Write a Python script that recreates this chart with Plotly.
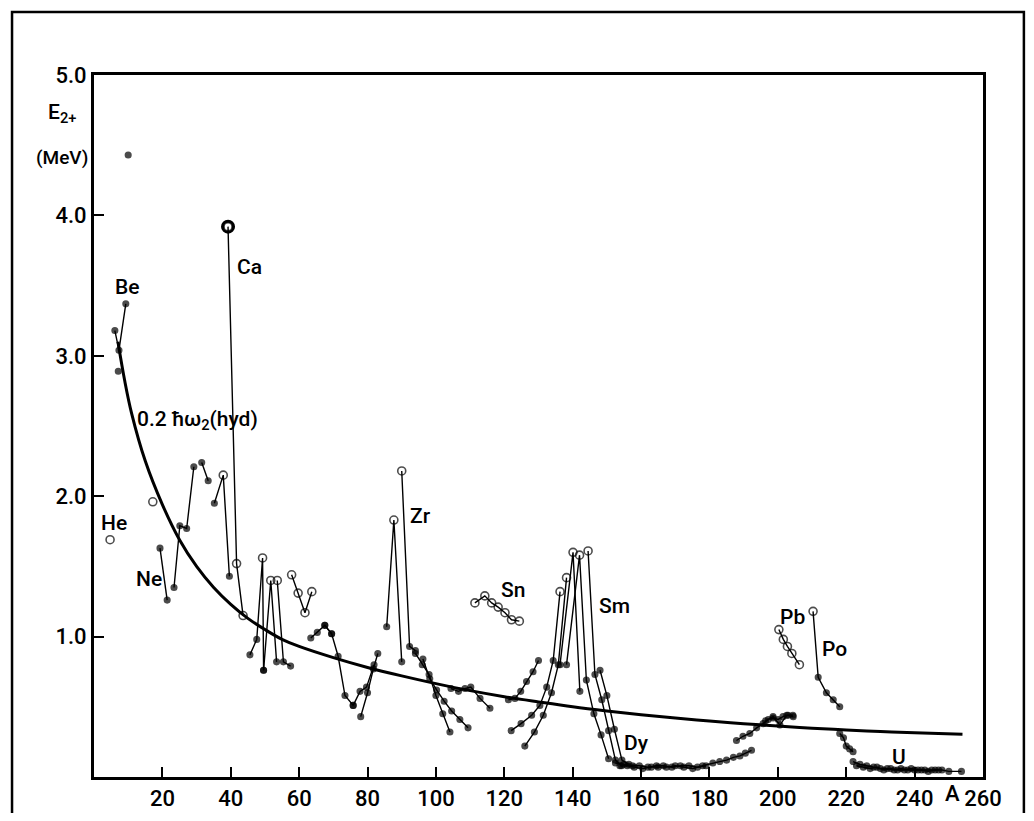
import plotly.graph_objects as go

# ---------------- data ----------------
CURVE_A = [7, 9, 11, 15, 20, 25, 30, 35, 40, 45, 50, 55, 60, 70, 80, 90, 100, 110, 120, 130, 140,
           150, 160, 170, 180, 190, 200, 210, 220, 230, 240, 254]
CURVE_E = [3.10, 2.82, 2.59, 2.25, 1.94, 1.69, 1.50, 1.35, 1.23, 1.13, 1.05, 0.98, 0.93, 0.85, 0.78,
           0.72, 0.665, 0.615, 0.572, 0.535, 0.500, 0.470, 0.443, 0.420, 0.399, 0.380, 0.363,
           0.348, 0.335, 0.324, 0.315, 0.305]

X10_A, X10_E = [10.0], [4.43]
HE_A, HE_E = [4.7], [1.69]
BE_A, BE_E = [6.1, 7.3, 9.3], [3.18, 3.04, 3.37]
BE2_A, BE2_E = [7.1], [2.89]
C_A, C_E = [17.2], [1.96]
NE_A, NE_E = [19.3, 21.4], [1.63, 1.26]
MG_A, MG_E = [23.4, 25.1, 27.1, 29.2], [1.35, 1.79, 1.77, 2.21]
S_A, S_E = [31.5, 33.4], [2.24, 2.11]
AR_A, AR_E = [35.2, 37.8, 39.6], [1.95, 2.15, 1.43]
CA_A, CA_E = [39.2, 41.7, 43.6], [3.92, 1.52, 1.15]
TI_A, TI_E = [45.6, 47.6, 49.3, 49.6], [0.87, 0.98, 1.56, 0.76]
CR_A, CR_E = [49.6, 51.7, 53.4], [0.76, 1.40, 0.82]
FE_A, FE_E = [53.6, 55.4, 57.5], [1.40, 0.82, 0.79]
NI_A, NI_E = [57.8, 59.7, 61.7, 63.7], [1.44, 1.31, 1.17, 1.32]
ZN_A, ZN_E = [63.4, 65.3, 67.5, 69.5], [0.99, 1.03, 1.08, 1.02]
GE_A, GE_E = [67.5, 69.5, 71.4, 73.4, 75.8], [1.08, 1.02, 0.86, 0.58, 0.51]
SE_A, SE_E = [75.8, 77.8, 79.7, 81.9], [0.51, 0.61, 0.64, 0.80]
KR_A, KR_E = [78.0, 80.0, 81.7, 83.0], [0.43, 0.60, 0.77, 0.88]
SR_A, SR_E = [85.6, 87.7, 90.0], [1.07, 1.83, 0.82]
ZR_A, ZR_E = [90.0, 92.3, 94.0], [2.18, 0.93, 0.90]
MO_A, MO_E = [94.0, 96.0, 98.0, 100.0, 102.0, 104.1], [0.88, 0.80, 0.73, 0.58, 0.45, 0.32]
RU_A, RU_E = [96.2, 98.2, 100.2, 102.4, 104.6, 107.0, 109.4], [0.84, 0.70, 0.62, 0.54, 0.47, 0.41, 0.35]
CD_A, CD_E = [104.4, 106.6, 108.5, 110.2, 112.9, 115.8], [0.63, 0.61, 0.63, 0.64, 0.56, 0.49]
SN_A, SN_E = [111.4, 114.3, 116.3, 118.2, 120.2, 122.1, 124.4], [1.24, 1.29, 1.24, 1.21, 1.17, 1.12, 1.11]
TE_A, TE_E = [121.2, 123.1, 124.8, 126.5, 128.4, 130.0], [0.55, 0.56, 0.61, 0.68, 0.75, 0.83]
XE_A, XE_E = [122.0, 124.9, 128.0, 130.4, 132.4, 134.3, 136.3], [0.33, 0.38, 0.44, 0.51, 0.64, 0.83, 1.32]
BA_A, BA_E = [126.0, 128.8, 131.4, 133.8, 135.8, 138.2], [0.22, 0.32, 0.44, 0.60, 0.80, 1.42]
CE_A, CE_E = [136.3, 140.1, 142.1], [0.80, 1.60, 0.61]
ND_A, ND_E = [138.2, 142.0, 144.0, 146.2, 148.3, 150.5], [0.80, 1.58, 0.69, 0.45, 0.30, 0.13]
SM_A, SM_E = [144.5, 146.5, 148.5, 150.5, 152.5, 154.3], [1.61, 0.73, 0.55, 0.33, 0.12, 0.08]
GD_A, GD_E = [148.0, 150.0, 152.2, 154.4, 156.4], [0.76, 0.58, 0.34, 0.12, 0.09]
DY_A = [153.8, 156.0, 158.0, 160.5, 163.0, 165.0, 167.4, 170.0, 172.5, 175.1, 178.0, 181.0, 183.0,
        185.0, 187.0, 188.9, 190.5, 192.3]
DY_E = [0.08, 0.08, 0.07, 0.06, 0.07, 0.07, 0.07, 0.08, 0.07, 0.06, 0.08, 0.10, 0.11, 0.12, 0.14,
        0.15, 0.17, 0.19]
ER_A = [152.5, 155.0, 157.5, 159.5, 162.0, 164.5, 166.5, 169.0, 171.5, 174.0, 176.5, 179.0]
ER_E = [0.10, 0.09, 0.08, 0.08, 0.07, 0.08, 0.08, 0.07, 0.08, 0.08, 0.07, 0.08]
OS_A = [187.9, 189.8, 191.8, 193.8, 195.7, 197.2, 198.6, 200.1, 201.5, 203.0, 204.5]
OS_E = [0.26, 0.29, 0.31, 0.35, 0.38, 0.41, 0.42, 0.41, 0.43, 0.44, 0.43]
HG_A, HG_E = [196.4, 198.6, 200.6, 202.6, 204.4], [0.40, 0.43, 0.37, 0.44, 0.44]
PB_A, PB_E = [200.3, 201.6, 202.8, 204.1, 206.3], [1.05, 0.98, 0.93, 0.88, 0.80]
PO_A, PO_E = [210.3, 211.8, 214.2, 216.2, 218.1], [1.18, 0.71, 0.60, 0.55, 0.50]
RN_A, RN_E = [218.1, 219.2, 220.0, 221.0, 222.0], [0.31, 0.28, 0.22, 0.20, 0.18]
U_A = [222.0, 224.0, 226.0, 228.0, 230.0, 232.0, 234.0, 236.0, 238.0, 240.0, 242.0, 244.0, 246.0,
       248.0, 250.0, 253.7]
U_E = [0.11, 0.09, 0.08, 0.07, 0.06, 0.06, 0.05, 0.06, 0.05, 0.05, 0.05, 0.04, 0.05, 0.05, 0.04, 0.04]
TH_A = [223.0, 225.0, 227.0, 229.0, 231.0, 233.0, 235.0, 237.0, 239.0, 241.0, 243.0, 245.0, 247.0]
TH_E = [0.08, 0.07, 0.06, 0.07, 0.05, 0.06, 0.05, 0.05, 0.06, 0.05, 0.05, 0.05, 0.05]

X_TICKS = [20, 40, 60, 80, 100, 120, 140, 160, 180, 200, 220, 240, 260]
Y_TICKS = [1, 2, 3, 4, 5]
Y_TICK_TEXT = ["1.0", "2.0", "3.0", "4.0", "5.0"]

LABELS = ["He", "Be", "Ca", "Ne", "Zr", "Sn", "Sm", "Dy", "Pb", "Po", "U"]
LABEL_A = [1.6, 5.6, 41.2, 11.6, 91.8, 118.4, 147.2, 154.5, 200.0, 212.3, 232.7]
LABEL_E = [1.81, 3.49, 3.63, 1.41, 1.86, 1.33, 1.22, 0.24, 1.14, 0.91, 0.14]

# chains: (A, E, indices drawn as open circles)
chains = [
    (BE_A, BE_E, []), (NE_A, NE_E, []), (MG_A, MG_E, []), (S_A, S_E, []),
    (AR_A, AR_E, [1]), (CA_A, CA_E, [0, 1, 2]), (TI_A, TI_E, [2]), (CR_A, CR_E, [1]),
    (FE_A, FE_E, [0]), (NI_A, NI_E, [0, 1, 2, 3]), (ZN_A, ZN_E, []), (GE_A, GE_E, []),
    (SE_A, SE_E, []), (KR_A, KR_E, []), (SR_A, SR_E, [1]), (ZR_A, ZR_E, [0]),
    (MO_A, MO_E, []), (RU_A, RU_E, []), (CD_A, CD_E, []), (SN_A, SN_E, list(range(7))),
    (TE_A, TE_E, []), (XE_A, XE_E, [6]), (BA_A, BA_E, [5]), (CE_A, CE_E, [1]),
    (ND_A, ND_E, [1]), (SM_A, SM_E, [0]), (GD_A, GD_E, []), (DY_A, DY_E, []),
    (ER_A, ER_E, []), (OS_A, OS_E, []), (HG_A, HG_E, []), (PB_A, PB_E, [0, 1, 2, 3, 4]),
    (PO_A, PO_E, [0]), (RN_A, RN_E, []), (U_A, U_E, []), (TH_A, TH_E, []),
    (BE2_A, BE2_E, []), (X10_A, X10_E, []), (HE_A, HE_E, [0]), (C_A, C_E, [0]),
]

FONT = "Roboto, Liberation Sans, DejaVu Sans, sans-serif"

# page body has an 8px margin, so the figure is sized to fit the window
W, H = 1018, 805
L, T = 86, 67
PW, PH = 889, 702

fig = go.Figure()

# hydrodynamic curve
fig.add_trace(go.Scatter(x=CURVE_A, y=CURVE_E, mode="lines",
                         line=dict(color="black", width=3, shape="spline", smoothing=1.0),
                         hoverinfo="skip", showlegend=False))

for A, E, open_idx in chains:
    syms = ["circle-open" if i in open_idx else "circle" for i in range(len(A))]
    sizes = [8 if i in open_idx else 5.5 for i in range(len(A))]
    mode = "lines+markers" if len(A) > 1 else "markers"
    fig.add_trace(go.Scatter(x=A, y=E, mode=mode,
                             line=dict(color="black", width=1.4),
                             marker=dict(symbol=syms, size=sizes, color="black",
                                         line=dict(color="black", width=1.6)),
                             showlegend=False))

# bold Ca circle on top
fig.add_trace(go.Scatter(x=CA_A[:1], y=CA_E[:1], mode="markers",
                         marker=dict(symbol="circle-open", size=11, color="black",
                                     line=dict(color="black", width=3)),
                         showlegend=False))

LBL_FONT = dict(size=21, color="black", family=FONT, weight=500)
for t, a, e in zip(LABELS, LABEL_A, LABEL_E):
    fig.add_annotation(x=a, y=e, text=t, showarrow=False, xanchor="left", yanchor="middle",
                       font=LBL_FONT)

fig.add_annotation(x=12.0, y=2.54, text="0.2 ħω<sub>2</sub>(hyd)", showarrow=False,
                   xanchor="left", yanchor="middle", font=LBL_FONT)

# axis titles
fig.add_annotation(xref="paper", yref="paper", x=-0.036, y=0.945, text="E<sub>2+</sub>",
                   showarrow=False, xanchor="center", yanchor="middle", font=LBL_FONT)
fig.add_annotation(xref="paper", yref="paper", x=-0.036, y=0.882, text="(MeV)",
                   showarrow=False, xanchor="center", yanchor="middle",
                   font=dict(size=19, color="black", family=FONT, weight=500))
fig.add_annotation(xref="x", yref="paper", x=251, y=-0.024, text="A",
                   showarrow=False, xanchor="center", yanchor="middle",
                   font=dict(size=22, color="black", family=FONT, weight=500))

# outer frame
fig.add_shape(type="rect", xref="paper", yref="paper", x0=-0.0922, x1=1.046, y0=-0.08, y1=1.0896,
              line=dict(color="black", width=2.5))

TICK_FONT = dict(size=22, color="black", family=FONT, weight=500)
fig.update_xaxes(range=[0, 260], tickvals=X_TICKS, ticktext=[str(v) for v in X_TICKS],
                 ticks="inside", ticklen=10, tickwidth=2, tickcolor="black",
                 showline=True, linecolor="black", linewidth=3, mirror=True,
                 showgrid=False, zeroline=False, tickfont=TICK_FONT, automargin=False)
fig.update_yaxes(range=[0, 5], tickvals=Y_TICKS, ticktext=Y_TICK_TEXT,
                 ticks="inside", ticklen=10, tickwidth=2, tickcolor="black",
                 showline=True, linecolor="black", linewidth=3, mirror=True,
                 showgrid=False, zeroline=False, tickfont=TICK_FONT, automargin=False)

fig.update_layout(width=W, height=H, autosize=False,
                  margin=dict(l=L, r=W - L - PW, t=T, b=H - T - PH, pad=0, autoexpand=False),
                  paper_bgcolor="white", plot_bgcolor="white",
                  font=dict(family=FONT, color="black"), showlegend=False)

fig.write_html("out.html")
